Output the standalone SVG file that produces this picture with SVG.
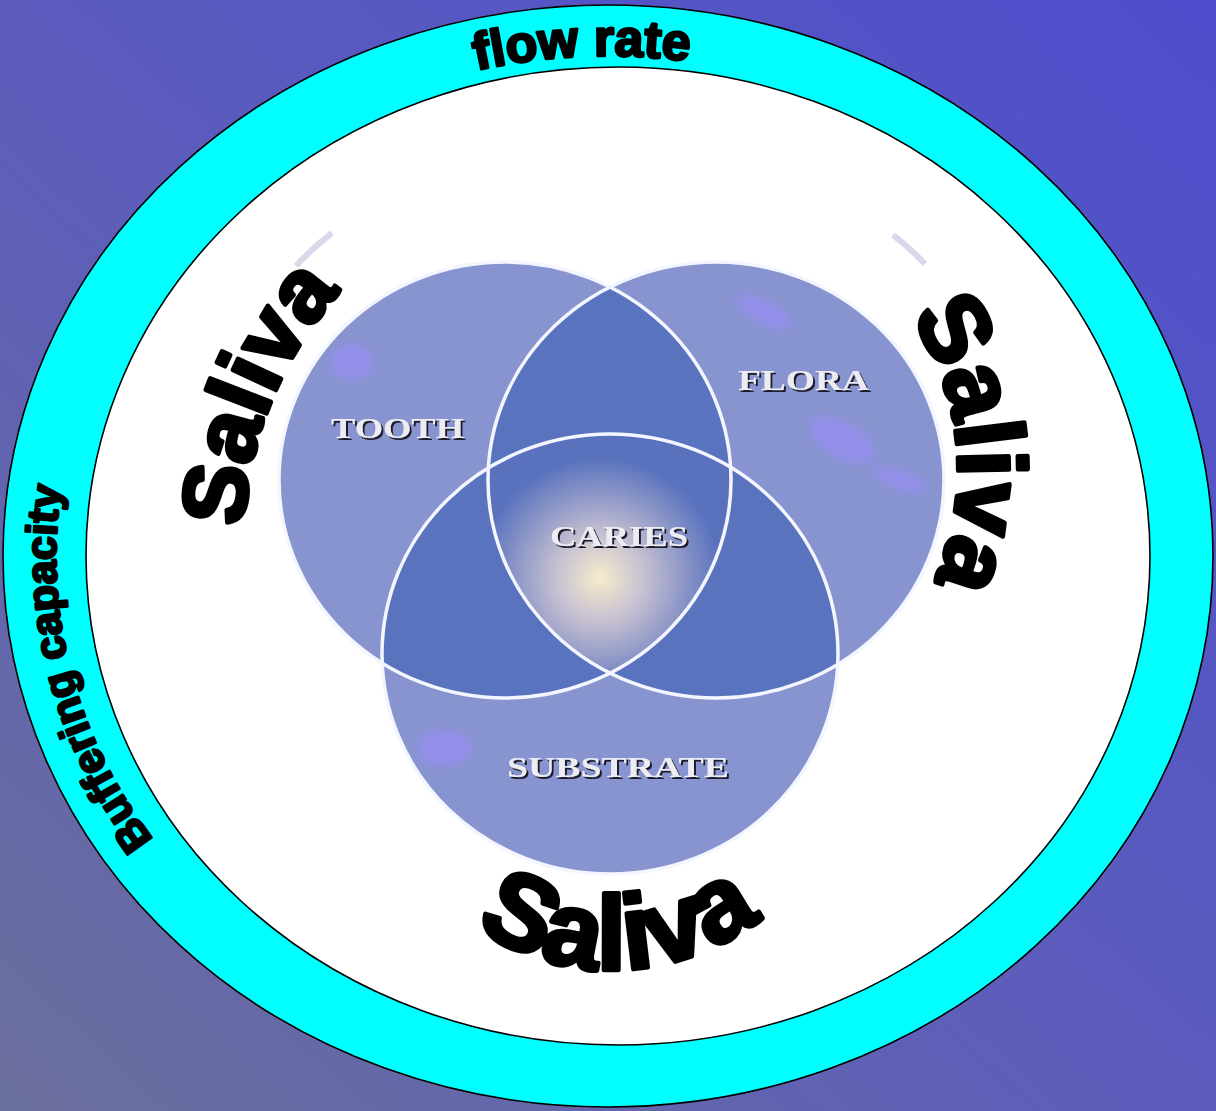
<svg xmlns="http://www.w3.org/2000/svg" width="1216" height="1111" viewBox="0 0 1216 1111">
<defs>
<linearGradient id="bg" x1="1" y1="0" x2="0" y2="1">
<stop offset="0" stop-color="#4e4ecd"/>
<stop offset="0.5" stop-color="#5b5cbc"/>
<stop offset="1" stop-color="#6b6f9c"/>
</linearGradient>
<radialGradient id="core" cx="600" cy="578" r="120" gradientUnits="userSpaceOnUse">
<stop offset="0" stop-color="#f6eccb"/>
<stop offset="0.35" stop-color="#c9c2d2"/>
<stop offset="1" stop-color="#5a72be"/>
</radialGradient>
<clipPath id="cTooth"><ellipse cx="505" cy="480" rx="226" ry="218"/></clipPath>
<clipPath id="cFlora"><ellipse cx="716" cy="480" rx="228" ry="218"/></clipPath>
<filter id="blur" x="-50%" y="-50%" width="200%" height="200%"><feGaussianBlur stdDeviation="5"/></filter>
<filter id="emb" x="-10%" y="-30%" width="120%" height="160%"><feDropShadow dx="2" dy="2" stdDeviation="0.6" flood-color="#1c1c2c" flood-opacity="1"/></filter>
<path id="pLeft" d="M 245.4 572.1 A 368 368 0 0 1 428 221.3"/>
<path id="pRight" d="M 889.2 290.7 A 268 268 0 0 1 909.5 623.7"/>
<path id="pBottom" d="M 404.2 850 A 240 240 0 0 0 829.5 831.4"/>
<path id="pTop" d="M 56 556 A 552 500 0 0 1 1160 556"/>
<path id="pSide" d="M 608 1056 A 552 500 0 0 1 56 556 A 552 500 0 0 1 608 56"/>
</defs>
<style>
.ring{fill:#00ffff;stroke:#000;stroke-width:1.6}
.inner{fill:#fff;stroke:#000;stroke-width:1.6}
.circle{fill:#8794cf}
.dark{fill:#5a73be}
.outline{fill:none;stroke:#f4f6ff;stroke-width:3.5}
.blot{fill:#9a8ef6;opacity:0.75;filter:url(#blur)}
.big{font-family:"Liberation Sans",Arial,sans-serif;font-weight:bold;fill:#000;stroke:#000;stroke-width:4.5;stroke-linejoin:round}
.ringtxt{font-family:"Liberation Sans",Arial,sans-serif;font-weight:bold;fill:#000;stroke:#000;stroke-width:2.6;stroke-linejoin:round}
.lbl{font-family:"Liberation Serif","Times New Roman",serif;font-weight:bold;font-size:30px;fill:#ececf2;filter:url(#emb)}
</style>
<rect id="background" x="0" y="0" width="1216" height="1111" fill="url(#bg)"/>
<g id="saliva-ring">
<ellipse class="ring" cx="608" cy="556" rx="605" ry="551"/>
<ellipse class="inner" cx="618" cy="556" rx="532" ry="489"/>
</g>
<g id="venn">
<path d="M 296 266 A 260 250 0 0 1 332 233" fill="none" stroke="#c9c9e2" stroke-width="6" opacity="0.7"/>
<path d="M 893 235 A 260 250 0 0 1 925 264" fill="none" stroke="#c9c9e2" stroke-width="6" opacity="0.7"/>
<g id="tooth"><ellipse class="circle" cx="505" cy="480" rx="226" ry="218"/></g>
<g id="flora"><ellipse class="circle" cx="716" cy="480" rx="228" ry="218"/></g>
<g id="substrate"><ellipse class="circle" cx="610" cy="654" rx="228" ry="220"/></g>
<g id="overlaps">
<g clip-path="url(#cTooth)"><ellipse class="dark" cx="716" cy="480" rx="228" ry="218"/><ellipse class="dark" cx="610" cy="654" rx="228" ry="220"/></g>
<g clip-path="url(#cFlora)"><ellipse class="dark" cx="610" cy="654" rx="228" ry="220"/></g>
</g>
<g id="blots">
<ellipse class="blot" cx="352" cy="362" rx="22" ry="18"/>
<ellipse class="blot" cx="764" cy="312" rx="32" ry="11" transform="rotate(25 764 312)"/>
<ellipse class="blot" cx="842" cy="440" rx="36" ry="18" transform="rotate(30 842 440)"/>
<ellipse class="blot" cx="900" cy="480" rx="28" ry="9" transform="rotate(20 900 480)"/>
<ellipse class="blot" cx="445" cy="748" rx="28" ry="18"/>
</g>
<g id="caries-core" clip-path="url(#cTooth)"><g clip-path="url(#cFlora)"><ellipse cx="610" cy="654" rx="228" ry="220" fill="url(#core)"/></g></g>
<g id="outlines">
<ellipse class="outline" cx="505" cy="480" rx="226" ry="218"/>
<ellipse class="outline" cx="716" cy="480" rx="228" ry="218"/>
<ellipse class="outline" cx="610" cy="654" rx="228" ry="220"/>
</g>
<g id="labels" class="lbl">
<text x="331" y="438" textLength="133" lengthAdjust="spacingAndGlyphs">TOOTH</text>
<text x="738" y="390" textLength="131" lengthAdjust="spacingAndGlyphs">FLORA</text>
<text x="550" y="546" textLength="138" lengthAdjust="spacingAndGlyphs">CARIES</text>
<text x="507" y="777" textLength="222" lengthAdjust="spacingAndGlyphs">SUBSTRATE</text>
</g>
</g>
<g id="connectors"/>
<g id="ring-labels">
<text class="ringtxt" font-size="52" text-anchor="middle"><textPath href="#pTop" startOffset="801">flow rate</textPath></text>
<text class="ringtxt" font-size="43" text-anchor="middle"><textPath href="#pSide" startOffset="709">Buffering capacity</textPath></text>
</g>
<g id="saliva-labels">
<text class="big" font-size="90"><textPath href="#pLeft" startOffset="45">Saliva</textPath></text>
<text class="big" font-size="96"><textPath href="#pRight" startOffset="33">Saliva</textPath></text>
<text class="big" font-size="106"><textPath href="#pBottom" startOffset="106">Saliva</textPath></text>
</g>
</svg>
